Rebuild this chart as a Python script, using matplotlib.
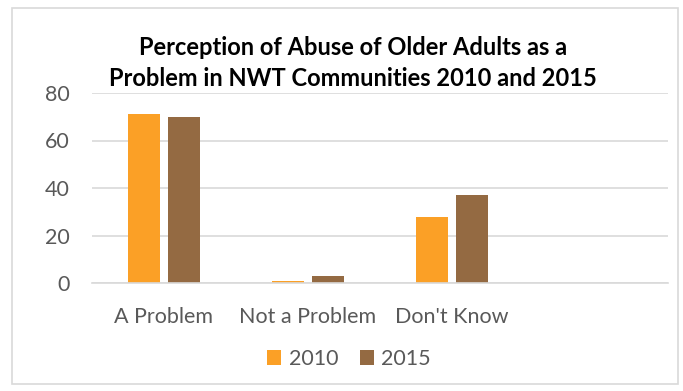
import numpy as np
import matplotlib.pyplot as plt
from matplotlib.patches import Rectangle

categories = ["A Problem", "Not a Problem", "Don't Know", ""]
values_2010 = [71, 1, 28, None]
values_2015 = [70, 3, 37, None]
series_names = ["2010", "2015"]
y_ticks = [0, 20, 40, 60, 80]

plt.rcParams['font.family'] = ['Lato', 'DejaVu Sans']

W, H = 683, 391
fig = plt.figure(figsize=(W / 100, H / 100), dpi=100)
fig.patch.set_facecolor('white')

# outer chart border
fig.patches.append(Rectangle((12 / W, 1 - 384 / H), 666 / W, 376 / H,
                             transform=fig.transFigure, fill=False,
                             edgecolor='#d9d9d9', lw=1.2))

ax = fig.add_axes([92 / W, 1 - 283 / H, 576 / W, 190 / H])

x = np.arange(len(categories))
v10 = [np.nan if v is None else v for v in values_2010]
v15 = [np.nan if v is None else v for v in values_2015]
bw = 0.222
ax.bar(x - 0.142, v10, bw, color='#FBA026', label=series_names[0])
ax.bar(x + 0.142, v15, bw, color='#946A42', label=series_names[1])

ax.set_xlim(-0.5, len(categories) - 0.5)
ax.set_ylim(0, 80)
ax.set_yticks(y_ticks)
ax.set_xticks(x)
ax.set_xticklabels(categories)
ax.yaxis.grid(True, color='#d9d9d9', lw=1.2)
ax.set_axisbelow(True)
for s in ['top', 'right', 'left']:
    ax.spines[s].set_visible(False)
ax.spines['bottom'].set_color('#d9d9d9')
ax.spines['bottom'].set_linewidth(1.2)
ax.tick_params(length=0, labelsize=15.5, colors='#595959')
ax.tick_params(axis='y', pad=16)
ax.tick_params(axis='x', pad=17)

fig.text(353 / W, 1 - 63 / H,
         "Perception of Abuse of Older Adults as a\nProblem in NWT Communities 2010 and 2015",
         ha='center', va='center', fontsize=17, fontweight='bold',
         color='black', linespacing=1.4)

fig.legend(loc='center', bbox_to_anchor=(349 / W, 1 - 359 / H), ncol=2,
           frameon=False, fontsize=15.5, labelcolor='#595959',
           handlelength=0.65, handleheight=0.65, handletextpad=0.35,
           columnspacing=1.0)

fig.savefig('out.png', dpi=100)
